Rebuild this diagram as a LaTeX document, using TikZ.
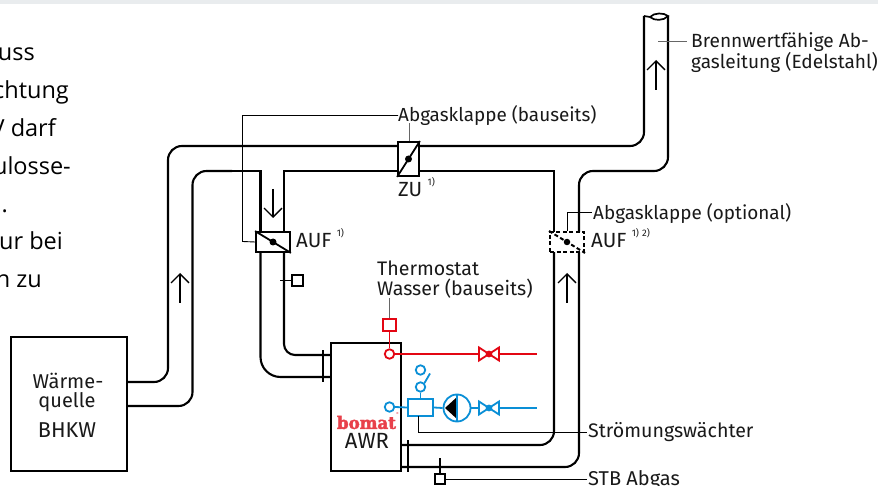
\documentclass[tikz,border=0pt]{standalone}
\usepackage{fontspec}
\setmainfont{Fira Sans}
\newfontfamily\bodyfont{Open Sans}
\newfontfamily\logofont[FakeBold=2.5]{DejaVu Serif}
\usetikzlibrary{arrows.meta}
\definecolor{rd}{HTML}{E30613}
\definecolor{bl}{HTML}{0A8FD6}
\definecolor{band}{HTML}{E9ECEE}
\definecolor{logored}{HTML}{E8404A}
\tikzset{
  x=1pt,y=-1pt,
  pipe/.style={line width=2.1pt,rounded corners=14pt},
  box/.style={draw,line width=1.8pt,inner sep=0pt,minimum width=#1},
  thin/.style={line width=.9pt},
  lead/.style={line width=1pt,draw=black!60},
  lbl/.style={inner sep=0pt,anchor=base west,font=\fontsize{#1}{20}\selectfont,text=black!90},
  lbl/.default=19.6,
  ctr/.style={font=\fontsize{#1}{20}\selectfont,inner sep=0pt,text=black!90},
  body/.style={inner sep=0pt,anchor=base east,font=\bodyfont\fontsize{23.5}{26}\selectfont,text=black},
  flow/.style={line width=1.3pt,-{Straight Barb[length=9pt,width=18pt,line width=1.3pt]}},
  dot/.style={circle,fill,inner sep=0pt,minimum size=7pt},
  port/.style={circle,draw,line width=1.8pt,fill=white,inner sep=0pt,minimum size=9.5pt},
}
\newcommand{\fn}[1]{\raisebox{.55em}{\fontsize{9.5}{9.5}\selectfont #1}}
\newcommand{\valvesym}[2]{%
  \draw[#2,line width=1.8pt,line join=miter] (#1)++(-10,-6.5) -- ++(20,13) -- ++(0,-13) -- ++(-20,13) -- cycle;
  \fill[#2] (#1) circle (3.4pt);}
\begin{document}
\begin{tikzpicture}
\useasboundingbox (0,0) rectangle (878,486);
\fill[band] (0,0) rectangle (878,4);
% left text
\node[body] (t1) at (35,61) {uss};
\node[body] (t2) at (69,99) {chtung};
\node[body] (t3) at (56,137) {V darf};
\node[body] (t4) at (71,174.5) {ulosse-};
\node[body] (t5) at (8,213) {n.};
\node[body] (t6) at (63,250) {ur bei};
\node[body] (t7) at (42,288) {n zu};
% main boxes
\node[draw,line width=1.6pt,inner sep=0pt,minimum width=116pt,minimum height=134pt,
  align=center] (bhkw) at (69,404) {};
\node[ctr=20] (w1) at (68,381) {Wärme-};
\node[ctr=20] (w2) at (67,402) {quelle};
\node[ctr=21.5] (w3) at (67,430) {BHKW};
\node[draw,line width=1.8pt,inner sep=0pt,minimum width=70pt,minimum height=128pt] (awr) at (366,407) {};
\node[ctr=22] (awrt) at (367,441) {AWR};
\node[inner sep=0pt,text=logored] (logo) at (366.5,422.5) {\resizebox{59pt}{13pt}{\logofont\bfseries bomat}};
\node[inner sep=0pt,text=logored,font=\fontsize{4}{4}\selectfont] (logor) at (397.5,414) {®};
% pipe top
\coordinate (o0) at (bhkw.east|-0,382);
\coordinate (i0) at (bhkw.east|-0,406);
\coordinate (ft1) at (644,16);
\coordinate (ft2) at (668,16);
\coordinate (fl) at (650,17);
\draw[pipe] (o0) -- (168,382) -- (168,146) -- (644,146) -- (ft1);
\draw[pipe] (i0) -- (192.5,406) -- (192.5,171) -- (232,171);
\draw[pipe,rounded corners=0pt] (232,171) -- (260.5,171) -- (260.5,232);
\draw[pipe,rounded corners=0pt] (284,232) -- (284,171) -- (400,171);
\draw[pipe,rounded corners=0pt] (400,171) -- (554,171) -- (554,232);
\draw[pipe] (579,232) -- (579,171) -- (668,171) -- (ft2);
\draw[line width=1.7pt] (ft1) -- (fl) .. controls (654,12.5) and (664,12.5) .. (ft2) .. controls (664,21) and (654,21) .. (fl);
% lower pipes to AWR
\draw[pipe,rounded corners=20pt] (260.5,252) -- (260.5,377) -- (awr.west|-0,377);
\draw[pipe,rounded corners=11pt] (284,252) -- (284,355) -- (awr.west|-0,355);
\draw[line width=1.6pt] (323,350) -- (323,382);
\draw[pipe] (awr.east|-0,445) -- (554,445) -- (554,252);
\draw[pipe] (awr.east|-0,467) -- (579,467) -- (579,252);
\draw[line width=1.6pt] (408,440) -- (408,472);
% dampers
\node[box=34pt,minimum height=20pt,fill=white] (d1) at (273,242) {};
\draw[line width=1.8pt] (d1.north west) -- (d1.south east);
\node[dot] (d1c) at (273,242) {};
\node[box=21pt,minimum height=34pt,fill=white] (d2) at (408.5,159) {};
\draw[line width=1.8pt] (d2.south west) -- (d2.north east);
\node[dot] (d2c) at (408.5,159) {};
\node[draw,line width=2pt,dash pattern=on 4pt off 2.5pt,fill=white,inner sep=0pt,minimum width=34pt,minimum height=20pt] (d3) at (567,242) {};
\draw[line width=2pt,dash pattern=on 4pt off 2.5pt] (d3.north west) -- (d3.south east);
\node[dot,minimum size=6.5pt] (d3c) at (567,242) {};
% flow arrows
\coordinate (a1s) at (273,189); \coordinate (a1e) at (273,218);
\coordinate (a2s) at (180,303); \coordinate (a2e) at (180,273);
\coordinate (a3s) at (567,303); \coordinate (a3e) at (567,273);
\coordinate (a4s) at (656,90); \coordinate (a4e) at (656,60);
\draw[flow] (a1s) -- (a1e);
\draw[flow] (a2s) -- (a2e);
\draw[flow] (a3s) -- (a3e);
\draw[flow] (a4s) -- (a4e);
% labels
\node[lbl=18.9] (lk1) at (398,122) {Abgasklappe (bauseits)};
\node[lbl=18.9] (lk2) at (593,220) {Abgasklappe (optional)};
\node[lbl=20.5] (zu) at (398,197) {ZU\ \fn{1)}};
\node[lbl=20.5] (auf1) at (296,248) {AUF\ \fn{1)}};
\node[lbl=20.5] (auf2) at (591,248) {AUF\ \fn{1)\,\,2)}};
\node[lbl] (th1) at (377,276) {Thermostat};
\node[lbl] (th2) at (377,296) {Wasser (bauseits)};
\node[lbl=19.1] (br1) at (691,48) {Brennwertfähige Ab-};
\node[lbl=19.1] (br2) at (691,69) {gasleitung (Edelstahl)};
\node[lbl] (st) at (588,437) {Strömungswächter};
\node[lbl=20] (stb) at (588,485) {STB Abgas};
% leaders
\coordinate (brc) at (658,42);
\draw[thin] (398,115.5) -- (242.5,115.5) -- (242.5,241.5) -- (d1.west);
\draw[lead] (d2.north -| 409,0) -- (409,123);
\draw[thin] (d3.north) -- (567,212) -- (592,212);
\draw[lead] (brc) -- (687,42);
% thermostat on pipe
\node[box=11pt,minimum height=11pt] (ts) at (297.5,280.5) {};
\draw[line width=1.6pt] (280,280.5) -- (ts.west);
% STB
\node[box=10pt,minimum height=10pt] (stbb) at (440,479) {};
\draw[line width=1.6pt] (stbb.north) -- (440,458);
\draw[thin] (stbb.east) -- (587,479);
% red circuit
\node[draw=rd,line width=1.8pt,inner sep=0pt,minimum width=12.5pt,minimum height=12.5pt] (rs) at (389.5,325) {};
\node[port,draw=rd] (rp) at (389.5,354) {};
\coordinate (rv) at (489,354);
\coordinate (rend) at (537,354);
\draw[lead] (rs.north) -- (389.5,298);
\draw[rd,line width=1.8pt] (rs.south) -- (rp.north);
\draw[rd,line width=1.8pt] (rp.east) -- (rend);
\fill[white] (rv)++(-11,-7) rectangle ++(22,14);
\valvesym{rv}{rd}
% blue circuit
\node[port,draw=bl] (bp) at (389.5,407) {};
\node[draw=bl,line width=1.8pt,inner sep=0pt,minimum width=25pt,minimum height=17pt] (sw) at (420.5,407.5) {};
\node[circle,draw=bl,line width=1.8pt,inner sep=0pt,minimum size=27pt] (pump) at (457,408) {};
\coordinate (bv) at (489,408);
\coordinate (bend) at (537,408);
\node[port,draw=bl] (c1) at (420.5,387) {};
\node[port,draw=bl] (c2) at (420.5,370) {};
\draw[bl,line width=1.8pt] (bp.east) -- (sw.west);
\draw[bl,line width=1.8pt] (sw.east) -- (pump.west);
\draw[bl,line width=1.8pt] (pump.east) -- (bend);
\draw[bl,line width=1.8pt] (c1.south) -- (sw.north);
\draw[bl,line width=1.8pt] (c1.north east) -- (430,373.5);
\fill (445,408) -- (457,397) -- (457,419) -- cycle;
\draw[bl,line width=1.8pt] (457,395) -- (457,421);
\fill[white] (bv)++(-11,-7) rectangle ++(22,14);
\valvesym{bv}{bl}
\draw[thin] (418.7,416) -- (418.7,432) -- (587,432);
\end{tikzpicture}
\end{document}
